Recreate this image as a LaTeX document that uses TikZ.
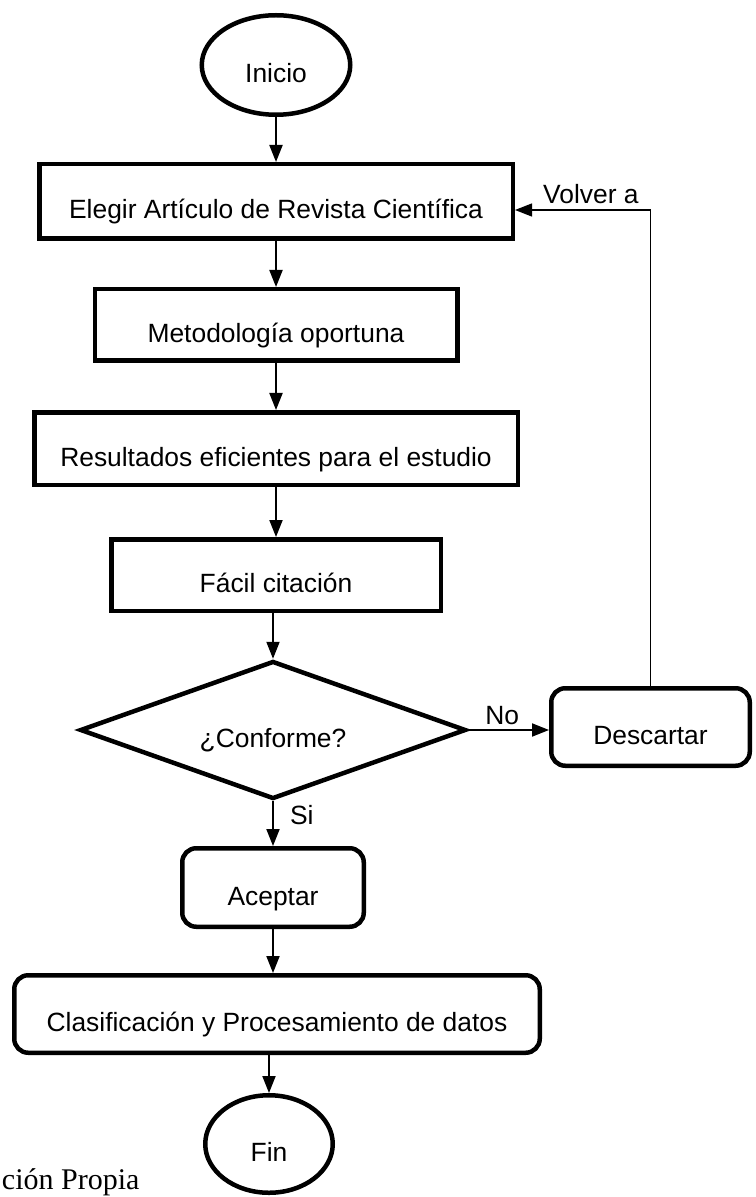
\documentclass[tikz,border=0pt]{standalone}
\usepackage{fontspec}
\setmainfont{Liberation Sans}
\newfontfamily\notafont{Liberation Serif}
\usetikzlibrary{shapes.geometric,arrows.meta}

\begin{document}
\begin{tikzpicture}[x=0.5pt,y=-0.5pt,->,>={Triangle[length=8.5pt,width=6.5pt]},line width=1pt,font=\fontsize{13.2}{16}\selectfont,
    base node/.style={draw,line width=2.25pt,inner sep=0pt,text height=17.5pt,text depth=0pt},
    box node/.style={base node,rectangle},
    round node/.style={base node,rectangle,rounded corners=7pt},
    end node/.style={base node,ellipse},
    ask node/.style={base node,diamond,aspect=2.8},
    tag/.style={inner sep=0pt}]
            \fill[white] (0,0) rectangle (755,1197);
            \useasboundingbox (0,0) rectangle (755,1197);

            \node[end node, minimum width=74.25pt, minimum height=49.75pt] (1) at (276,65) {Inicio};
            \node[box node, minimum width=236.75pt, minimum height=37.25pt] (2) at (276,201.5) {Elegir Artículo de Revista Científica};
            \node[box node, minimum width=181.25pt, minimum height=35.75pt] (3) at (276,325) {Metodología oportuna};
            \node[box node, minimum width=241.75pt, minimum height=36.25pt] (4) at (276,448.5) {Resultados eficientes para el estudio};
            \node[box node, minimum width=164.75pt, minimum height=35.75pt] (5) at (276,575) {Fácil citación};
            \node[ask node, minimum width=193pt, minimum height=69pt] (6) at (273,730) {¿Conforme?};
            \node[round node, minimum width=99.25pt, minimum height=38.75pt] (7) at (650.5,727) {Descartar};
            \node[round node, minimum width=90.75pt, minimum height=39.25pt] (8) at (273,887.5) {Aceptar};
            \node[round node, minimum width=262.75pt, minimum height=38.75pt] (9) at (277,1014) {Clasificación y Procesamiento de datos};
            \node[end node, minimum width=63.75pt, minimum height=48.75pt] (10) at (269,1144) {Fin};
            \node[tag, anchor=base west, font=\notafont\fontsize{15}{18}\selectfont] (11) at (1,1189) {ción Propia};

            \path
                (1) edge (2)
                (2) edge (3)
                (3) edge (4)
                (4) edge (5)
                (6 |- 5.south) edge (6)
                (6) edge node[tag, anchor=base west, xshift=8pt, pos=0.51] {Si} (8)
                (6.east) edge node[tag, anchor=base, yshift=3pt, pos=0.42] {No} (6.east -| 7.west)
                (8) edge (8 |- 9.north)
                (10 |- 9.south) edge (10)
            ;
            \draw[line width=0.65pt] (7.north) |- node[tag, anchor=base, yshift=3pt, pos=0.72] {Volver a} ([yshift=-4.25pt]2.east);

        \end{tikzpicture}
\end{document}
